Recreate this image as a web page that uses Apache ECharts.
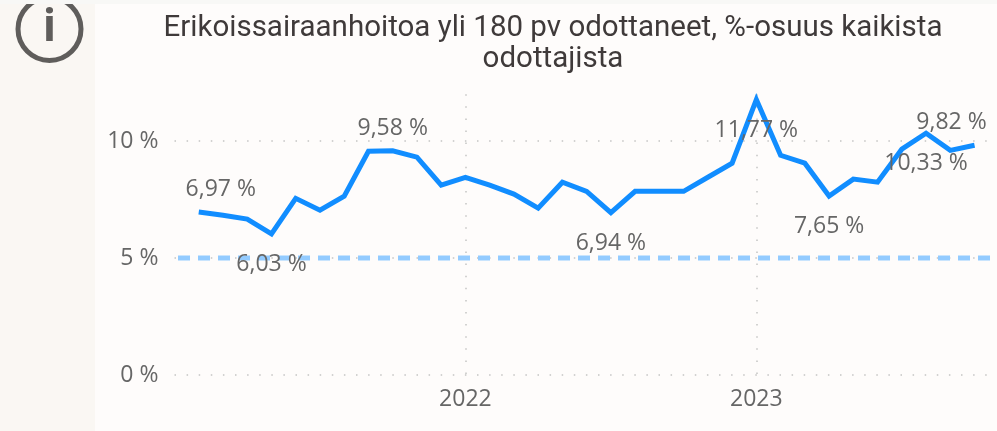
<!DOCTYPE html>
<html><head><meta charset="utf-8">
<style>html,body{margin:0;padding:0;background:#fefcfb}#c{width:997px;height:431px}</style>
<script src="https://cdn.jsdelivr.net/npm/echarts@6/dist/echarts.min.js"></script>
</head><body><div id="c"></div>
<script>
const titleText = 'Erikoissairaanhoitoa yli 180 pv odottaneet, %-osuus kaikista\nodottajista';
const months = ['2021-02','2021-03','2021-04','2021-05','2021-06','2021-07','2021-08','2021-09','2021-10','2021-11','2021-12',
 '2022-01','2022-02','2022-03','2022-04','2022-05','2022-06','2022-07','2022-08','2022-09','2022-10','2022-11','2022-12',
 '2023-01','2023-02','2023-03','2023-04','2023-05','2023-06','2023-07','2023-08','2023-09','2023-10'];
const shares = [6.97,6.83,6.66,6.03,7.55,7.04,7.64,9.56,9.58,9.31,8.11,
 8.45,8.11,7.73,7.13,8.24,7.85,6.94,7.85,7.85,7.85,8.45,9.05,
 11.77,9.39,9.05,7.65,8.37,8.24,9.65,10.33,9.6,9.82];
const target = 5;
const yTicks = [0,5,10];
const labelledAbove = {0:[22,0],8:[0,0],32:[-23,0]};
const labelledBelow = {3:[0,0],17:[0,0],23:[0,0],26:[0,0],30:[0,0]};

const toYear = s => { const [y,m] = s.split('-').map(Number); return y + (m-1)/12; };
const fmt = v => v.toFixed(2).replace('.',',') + ' %';
const FONT = '"Open Sans"';
const GREY = '#666666';
const xMin = 2021, xMax = 2023.81;

const lineData = months.map((m,i)=>{
  const item = {value:[toYear(m),shares[i]]};
  const a = labelledAbove[i], b = labelledBelow[i];
  if (a||b) item.label = {show:true, position:a?'top':'bottom', offset:a||b, distance:a?11:19,
    formatter:fmt(shares[i]), color:GREY, fontFamily:FONT, fontSize:23};
  return item;
});
const dots = {show:true, lineStyle:{color:'#c4c4c4', width:1.5, type:[1.5,10.6]}};
const chart = echarts.init(document.getElementById('c'));
chart.setOption({
  animation:false,
  backgroundColor:'#fefcfb',
  title:{text:titleText,left:548,top:8,textAlign:'center',
    textStyle:{fontFamily:'Roboto',fontWeight:'normal',fontSize:29.5,lineHeight:31,color:'#3f3a3a'}},
  grid:{left:174.5,right:5,top:94.2,bottom:56},
  xAxis:{type:'value',min:xMin,max:xMax,interval:1,
    axisLine:{show:false},axisTick:{show:false},
    splitLine:{...dots,showMinLine:false,showMaxLine:false},
    axisLabel:{color:GREY,fontFamily:FONT,fontSize:23,margin:13,showMinLabel:false,showMaxLabel:false,
      formatter:v=>String(Math.round(v))}},
  yAxis:{type:'value',min:yTicks[0],max:12,interval:yTicks[1]-yTicks[0],
    axisLine:{show:false},axisTick:{show:false},
    splitLine:{...dots,showMaxLine:false},
    axisLabel:{color:GREY,fontFamily:FONT,fontSize:23,margin:16,padding:[4,0,0,0],showMaxLabel:false,formatter:v=>v+' %'}},
  graphic:[
    {type:'rect',z:-10,silent:true,shape:{x:0,y:0,width:95,height:431},style:{fill:'#faf7f3'}},
    {type:'circle',z:5,silent:true,shape:{cx:49.5,cy:29,r:31.5},style:{fill:'none',stroke:'#5f5d5b',lineWidth:5}},
    {type:'text',z:6,silent:true,x:49.5,y:28,style:{text:'i',fill:'#5f5d5b',font:'bold 44px "Open Sans"',align:'center',verticalAlign:'middle'}},
    {type:'rect',z:7,silent:true,shape:{x:0,y:0,width:997,height:4},style:{fill:'#f8f8f6'}}
  ],
  series:[
    {type:'line',z:2,silent:true,symbol:'none',lineStyle:{color:'#93cbff',width:5,type:[12,8]},
      data:[[2021.012,target],[xMax,target]]},
    {type:'line',z:3,symbol:'circle',symbolSize:0,showSymbol:true,showAllSymbol:true,
      itemStyle:{color:'#118dff'},lineStyle:{color:'#118dff',width:5,join:'miter'},data:lineData}
  ]
});
</script></body></html>
